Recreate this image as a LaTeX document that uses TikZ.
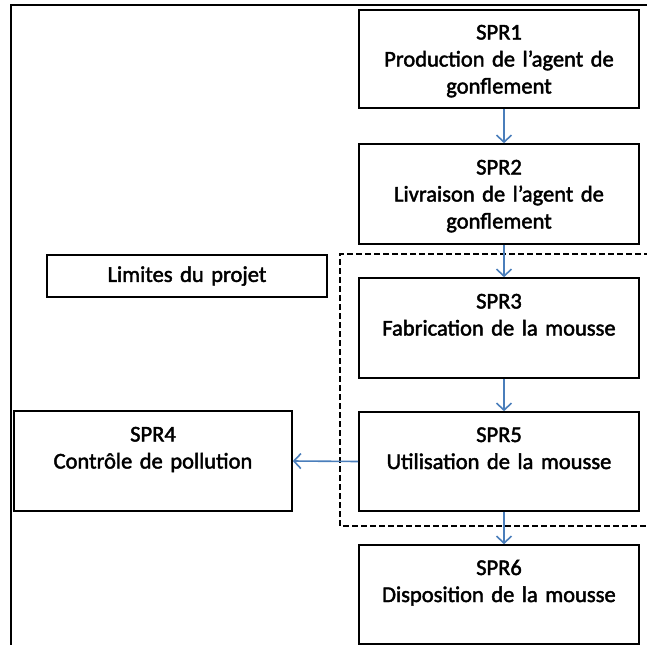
\documentclass[tikz,border=0pt]{standalone}
\usepackage{fontspec}
\setmainfont[FakeBold=2]{Carlito}
\usetikzlibrary{arrows.meta}
\definecolor{flowblue}{HTML}{4A7EBB}
\tikzset{
  plainbox/.style={draw=black, line width=1.6pt, rectangle, inner sep=0pt,
    minimum width=280pt, text width=274pt, align=center,
    font=\fontsize{22.5}{27}\selectfont},
  % stage boxes keep the first line at the same distance below the top edge
  stagebox/.style={plainbox, minimum height=99pt, text height=14pt, text depth=53pt},
  flow/.style={draw=flowblue, line width=1.6pt,
    -{Straight Barb[length=7pt,width=15pt,line width=1.6pt]}},
  boundary/.style={draw=black, line width=1.3pt, dash pattern=on 6pt off 3pt},
}
\begin{document}
\begin{tikzpicture}[x=1pt, y=-1pt]
  \useasboundingbox (0,0) rectangle (647,645);
  % outer frame (top and left edges)
  \draw[line width=2.6pt] (647,5) -- (11,5) -- (11,645);
  % project boundary
  \draw[boundary] (650,254) -- (340,254) -- (340,526) -- (650,526);

  \node[stagebox, minimum height=98pt] (spr1) at (499,59)
    {SPR1\\Production de l’agent de\\gonflement};
  \node[stagebox, minimum height=100pt] (spr2) at (499,194)
    {SPR2\\Livraison de l’agent de\\gonflement};
  \node[stagebox, minimum height=100pt] (spr3) at (499,328)
    {SPR3\\Fabrication de la mousse};
  \node[stagebox] (spr5) at (499,461.5)
    {SPR5\\Utilisation de la mousse};
  \node[stagebox] (spr6) at (499,594.5)
    {SPR6\\Disposition de la mousse};
  \node[stagebox, minimum width=278pt, minimum height=100pt] (spr4) at (153,461)
    {SPR4\\Contrôle de pollution};
  \node[plainbox, minimum height=42pt] (lim) at (187,276) {Limites du projet};

  \draw[flow] ([xshift=5pt]spr1.south) -- ([xshift=5pt]spr2.north);
  \draw[flow] ([xshift=5pt]spr2.south) -- ([xshift=5pt]spr3.north);
  \draw[flow] ([xshift=5pt]spr3.south) -- ([xshift=5pt]spr5.north);
  \draw[flow] ([xshift=5pt]spr5.south) -- ([xshift=5pt]spr6.north);
  \draw[flow] (spr5.west) -- (spr4.east);
\end{tikzpicture}
\end{document}
